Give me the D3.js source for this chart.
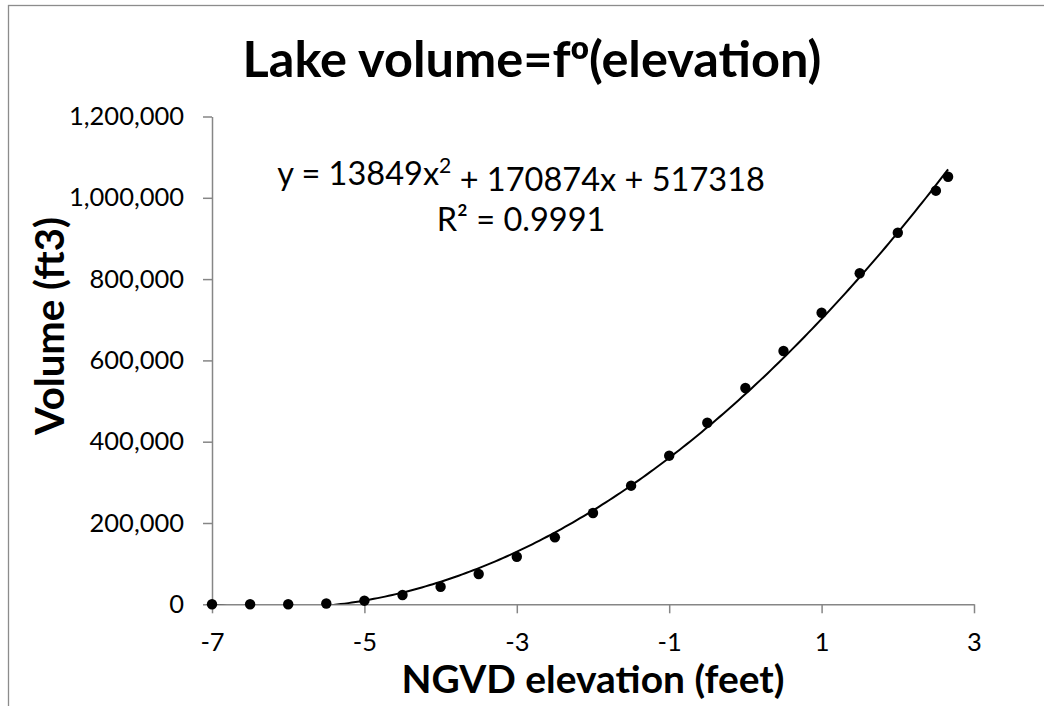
<!DOCTYPE html>
<html>
<head>
<meta charset="utf-8">
<script src="https://cdn.jsdelivr.net/npm/d3@7"></script>
<style>
  html, body { margin: 0; padding: 0; background: #fff; }
  svg { display: block; }
  text { font-family: Lato, "Open Sans", sans-serif; fill: #000; }
</style>
</head>
<body>
<svg id="chart" width="1044" height="706"></svg>
<script>
// Elevation (feet, NGVD) of each survey point
const elevations = [-7, -6.5, -6, -5.5, -5, -4.5, -4, -3.5, -3, -2.5, -2, -1.5, -1, -0.5, 0, 0.5, 1, 1.5, 2, 2.5, 2.66];
// Lake volume (ft3) at each elevation
const volumes = [0, 0, 0, 2000, 8900, 22900, 43300, 74500, 117100, 164800, 224600, 291800, 365600, 446700, 532100, 623100, 717300, 814300, 914100, 1017500, 1051900];
// Polynomial trendline: y = a x^2 + b x + c
const trendCoefficients = [13849, 170874, 517318];
const rSquared = "0.9991";
const xTicks = [-7, -5, -3, -1, 1, 3];
const yTicks = [0, 200000, 400000, 600000, 800000, 1000000, 1200000];

const svg = d3.select("#chart");
const W = 1044, H = 706;
const plot = { left: 212, right: 974, top: 116.5, bottom: 604.3 };
const axisColor = "#868686";

// scale a text element's font so that it spans the given width
function fitWidth(sel, target, start) {
  sel.style("font-size", start + "px");
  const w = sel.node().getComputedTextLength();
  const size = start * target / w;
  sel.style("font-size", size + "px");
  return size;
}

// chart frame
svg.append("rect")
  .attr("x", 8.5).attr("y", 5.5)
  .attr("width", W + 20).attr("height", H + 20)
  .attr("fill", "#fff").attr("stroke", "#8c8c8c").attr("stroke-width", 1.3);

const x = d3.scaleLinear().domain([-7, 3]).range([plot.left, plot.right]);
const y = d3.scaleLinear().domain([0, 1200000]).range([plot.bottom, plot.top]);

// title
const title = svg.append("text")
  .attr("x", 532).attr("y", 77)
  .attr("text-anchor", "middle")
  .style("font-weight", "bold");
title.append("tspan").text("Lake volume=f");
title.append("tspan").style("font-family", "'Liberation Sans', Arial, sans-serif").text("º");
title.append("tspan").text("(elevation)");
fitWidth(title, 579, 50);

// axes
const fmt = d3.format(",");
const yAxis = svg.append("g")
  .attr("transform", `translate(${plot.left},0)`)
  .call(d3.axisLeft(y).tickValues(yTicks).tickFormat(fmt).tickSizeInner(9).tickSizeOuter(0).tickPadding(19));
const xAxis = svg.append("g")
  .attr("transform", `translate(0,${plot.bottom})`)
  .call(d3.axisBottom(x).tickValues(xTicks).tickFormat(d => d < 0 ? "-" + Math.abs(d) : d).tickSizeInner(9).tickSizeOuter(0).tickPadding(20));

[xAxis, yAxis].forEach(g => {
  g.select(".domain").attr("stroke", axisColor).attr("stroke-width", 1.5);
  g.selectAll(".tick line").attr("stroke", axisColor).attr("stroke-width", 1.5);
  g.selectAll(".tick text").attr("fill", "#000").style("font-family", "Lato, sans-serif");
});

// tick label size from the widest label
const probe = yAxis.selectAll(".tick text").filter(d => d === 1200000);
const tickSize = fitWidth(probe, 115, 24);
svg.selectAll(".tick text").style("font-size", tickSize + "px");

// axis titles
const xTitle = svg.append("text")
  .attr("x", (plot.left + plot.right) / 2).attr("y", 693)
  .attr("text-anchor", "middle")
  .style("font-weight", "bold")
  .text("NGVD elevation (feet)");
fitWidth(xTitle, 383, 36);

const yTitle = svg.append("text")
  .attr("transform", "translate(64,326) rotate(-90)")
  .attr("text-anchor", "middle")
  .style("font-weight", "bold")
  .text("Volume (ft3)");
fitWidth(yTitle, 218, 36);

// trendline, clipped to the plot area
svg.append("clipPath").attr("id", "plotClip")
  .append("rect")
  .attr("x", plot.left).attr("y", plot.top - 10)
  .attr("width", plot.right - plot.left + 10).attr("height", plot.bottom - plot.top + 10);

const [a, b, c] = trendCoefficients;
const xStart = elevations[0], xEnd = elevations[elevations.length - 1];
const trendX = d3.range(0, 201).map(i => xStart + (xEnd - xStart) * i / 200);
svg.append("path")
  .attr("clip-path", "url(#plotClip)")
  .attr("fill", "none")
  .attr("stroke", "#000")
  .attr("stroke-width", 2)
  .attr("d", d3.line().x(d => x(d)).y(d => y(a * d * d + b * d + c))(trendX));

// observed points
svg.append("g").selectAll("circle")
  .data(elevations.map((e, i) => [e, volumes[i]]))
  .join("circle")
  .attr("cx", d => x(d[0]))
  .attr("cy", d => y(d[1]))
  .attr("r", 5.2)
  .attr("fill", "#000");

// trendline equation and R²
const eq = svg.append("text")
  .attr("x", 521).attr("y", 185)
  .attr("text-anchor", "middle");
eq.append("tspan").text(`y = ${a}x`);
eq.append("tspan").attr("dy", "-0.55em").style("font-size", "65%").text("2");
eq.append("tspan").attr("dy", "0.55em").text(` + ${b}x + ${c}`);
const eqSize = fitWidth(eq, 488, 34);

svg.append("text")
  .attr("x", 521).attr("y", 231)
  .attr("text-anchor", "middle")
  .style("font-size", eqSize + "px")
  .text(`R² = ${rSquared}`);
</script>
</body>
</html>
